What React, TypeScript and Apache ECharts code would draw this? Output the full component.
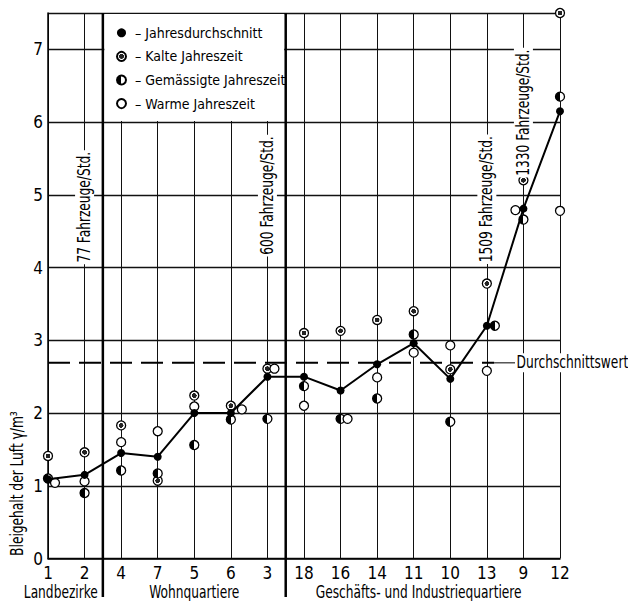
import React, { useEffect, useRef } from "react";
import * as echarts from "echarts";

// ---- data ----
const categories = ["1", "2", "4", "7", "5", "6", "3", "18", "16", "14", "11", "10", "13", "9", "12"];
const annualMean = [1.09, 1.15, 1.45, 1.40, 2.0, 2.0, 2.5, 2.5, 2.31, 2.67, 2.96, 2.47, 3.2, 4.81, 6.15];
const coldSeason = [1.41, 1.46, 1.83, 1.07, 2.24, 2.10, 2.61, 3.10, 3.13, 3.28, 3.40, 2.60, 3.78, 5.20, 7.50];
const moderateSeason = [1.10, 0.90, 1.21, 1.17, 1.56, 1.91, 1.92, 2.37, 1.92, 2.20, 3.08, 1.88, 3.20, 4.66, 6.35];
const warmSeason = [1.04, 1.06, 1.60, 1.75, 2.09, 2.05, 2.61, 2.10, 1.92, 2.49, 2.83, 2.93, 2.58, 4.79, 4.78];
const yTicks = [0, 1, 2, 3, 4, 5, 6, 7];
const averageValue = 2.69;
const averageLabel = "Durchschnittswert";
const seriesNames = ["Jahresdurchschnitt", "Kalte Jahreszeit", "Gemässigte Jahreszeit", "Warme Jahreszeit"];
const groupNames = ["Landbezirke", "Wohnquartiere", "Geschäfts- und Industriequartiere"];
const trafficLabels = ["77 Fahrzeuge/Std.", "600 Fahrzeuge/Std.", "1509 Fahrzeuge/Std.", "1330 Fahrzeuge/Std."];
const trafficCategory = ["2", "3", "13", "9"];
const trafficAt = [4.83, 4.99, 4.94, 6.13];
const yTitle = "Bleigehalt der Luft γ/m³";

// marker nudges (style only) so overlapping markers stay visible
const warmNudge = [7, 0, 0, 0, 0, 11, 7, 0, 7, 0, 0, 0, 0, -8, 0];
const moderateNudge = [0, 0, 0, 0, 0, 0, 0, 0, 0, 0, 0, 0, 8, 0, 0];

const FONT = "'DejaVu Sans Condensed', 'DejaVu Sans', sans-serif";
const NARROW = 0.8;

function pts(values: number[], nudge?: number[]) {
  return values.map((v, i) =>
    nudge && nudge[i] ? { value: [categories[i], v], symbolOffset: [nudge[i], 0] } : [categories[i], v]
  );
}

export default function App() {
  const ref = useRef<HTMLDivElement>(null);
  useEffect(() => {
    const el = ref.current!;
    const chart = echarts.init(el, null, { renderer: "svg" });
    const coldFill = new echarts.graphic.RadialGradient(0.5, 0.5, 0.5, [
      { offset: 0, color: "#222" },
      { offset: 0.5, color: "#222" },
      { offset: 0.55, color: "#fff" },
      { offset: 1, color: "#fff" },
    ]);
    const halfFill = new echarts.graphic.LinearGradient(0, 0, 1, 0, [
      { offset: 0, color: "#000" },
      { offset: 0.5, color: "#000" },
      { offset: 0.5, color: "#fff" },
      { offset: 1, color: "#fff" },
    ]);
    const option: any = {
      animation: false,
      backgroundColor: "#fff",
      textStyle: { fontFamily: FONT },
      grid: { left: 48, right: 68, top: 13, bottom: 42.5, containLabel: false },
      xAxis: {
        type: "category",
        data: categories,
        boundaryGap: false,
        axisLine: { lineStyle: { color: "#000", width: 1.5 } },
        axisTick: { show: false },
        axisLabel: { interval: 0, color: "#000", fontSize: 17, fontFamily: FONT, margin: 6 },
        splitLine: { show: true, interval: 0, lineStyle: { color: "#111", width: 1 } },
      },
      yAxis: {
        type: "value",
        min: 0,
        max: 7.5,
        interval: 1,
        axisLine: { show: true, lineStyle: { color: "#000", width: 1.5 } },
        axisTick: { show: false },
        axisLabel: {
          color: "#000",
          fontSize: 17,
          fontFamily: FONT,
          margin: 5,
          formatter: (v: number) => (yTicks.includes(v) ? String(v) : ""),
        },
        splitLine: { show: true, lineStyle: { color: "#111", width: 1.3 } },
      },
      legend: {
        orient: "vertical",
        left: 116,
        top: 21,
        padding: 0,
        itemGap: 0,
        itemWidth: 9,
        itemHeight: 9,
        icon: "circle",
        selectedMode: false,
        z: 6,
        formatter: " – {name}",
        textStyle: { fontFamily: FONT, fontSize: 14, color: "#000", lineHeight: 23.6 },
        data: seriesNames,
      },
      series: [
        {
          name: seriesNames[1],
          type: "scatter",
          symbol: "circle",
          symbolSize: 9,
          z: 3,
          itemStyle: { color: coldFill, borderColor: "#000", borderWidth: 1.3, opacity: 1 },
          data: pts(coldSeason),
        },
        {
          name: seriesNames[2],
          type: "scatter",
          symbol: "circle",
          symbolSize: 9,
          z: 3,
          itemStyle: { color: halfFill, borderColor: "#000", borderWidth: 1.3, opacity: 1 },
          data: pts(moderateSeason, moderateNudge),
        },
        {
          name: seriesNames[3],
          type: "scatter",
          symbol: "circle",
          symbolSize: 9,
          z: 3,
          itemStyle: { color: "#fff", borderColor: "#000", borderWidth: 1.3, opacity: 1 },
          data: pts(warmSeason, warmNudge),
        },
        {
          name: seriesNames[0],
          type: "line",
          symbol: "circle",
          symbolSize: 8,
          showAllSymbol: true,
          z: 5,
          itemStyle: { color: "#000" },
          lineStyle: { color: "#000", width: 2 },
          data: annualMean,
        },
      ],
    };
    chart.setOption(option);

    const xp = (i: number) => chart.convertToPixel({ xAxisIndex: 0 }, categories[i]) as number;
    const yp = (v: number) => chart.convertToPixel({ yAxisIndex: 0 }, v) as number;
    const step = xp(1) - xp(0);
    const sep1 = (xp(1) + xp(2)) / 2;
    const sep2 = (xp(6) + xp(7)) / 2;
    const top = yp(7.5);
    const bottom = yp(0);
    const graphics: any[] = [];
    const txt = (x: number, y: number, text: string, align: string, rotate: boolean, bg: boolean) => ({
      type: "text",
      z: 8,
      x,
      y,
      rotation: rotate ? Math.PI / 2 : 0,
      scaleX: NARROW,
      style: {
        text,
        fontFamily: FONT,
        fontSize: 17,
        fill: "#000",
        align,
        verticalAlign: "middle",
        backgroundColor: bg ? "#fff" : "transparent",
        padding: bg ? [1, 2, 1, 2] : 0,
      },
    });
    // legend box background
    graphics.push({
      type: "rect",
      z: 4,
      shape: { x: sep1 + 1.5, y: top + 1, width: sep2 - sep1 - 3, height: yp(6) - top - 2 },
      style: { fill: "#fff" },
    });
    // group separators
    [sep1, sep2].forEach((s) =>
      graphics.push({
        type: "line",
        z: 7,
        shape: { x1: s, y1: top, x2: s, y2: bottom + 38.5 },
        style: { stroke: "#000", lineWidth: 2.5 },
      })
    );
    // average line
    const dashEnd = xp(12) + 0.2 * step;
    const textStart = xp(12) + 0.77 * step;
    graphics.push({
      type: "line",
      z: 2,
      shape: { x1: xp(0), y1: yp(averageValue), x2: dashEnd, y2: yp(averageValue) },
      style: { stroke: "#000", lineWidth: 2, lineDash: [22, 9] },
    });
    graphics.push({
      type: "line",
      z: 2,
      shape: { x1: dashEnd, y1: yp(averageValue), x2: textStart, y2: yp(averageValue) },
      style: { stroke: "#000", lineWidth: 1 },
    });
    graphics.push(txt(textStart, yp(averageValue), averageLabel, "left", false, true));
    // traffic annotations
    trafficLabels.forEach((t, i) => {
      graphics.push(
        txt(
          chart.convertToPixel({ xAxisIndex: 0 }, trafficCategory[i]) as number,
          yp(trafficAt[i]),
          t,
          "center",
          true,
          true
        )
      );
    });
    // y axis title
    graphics.push(txt(17, yp(1.03), yTitle, "center", true, false));
    // group labels
    const gy = bottom + 34;
    graphics.push(txt(sep1 - 5, gy, groupNames[0], "right", false, false));
    graphics.push(txt((xp(2) + xp(6)) / 2, gy, groupNames[1], "center", false, false));
    graphics.push(txt(sep2 + 30, gy, groupNames[2], "left", false, false));
    chart.setOption({ graphic: graphics });
    return () => chart.dispose();
  }, []);
  return (
    <div
      ref={ref}
      style={{ position: "fixed", left: 0, top: 0, width: 628, height: 601, background: "#fff" }}
    />
  );
}
